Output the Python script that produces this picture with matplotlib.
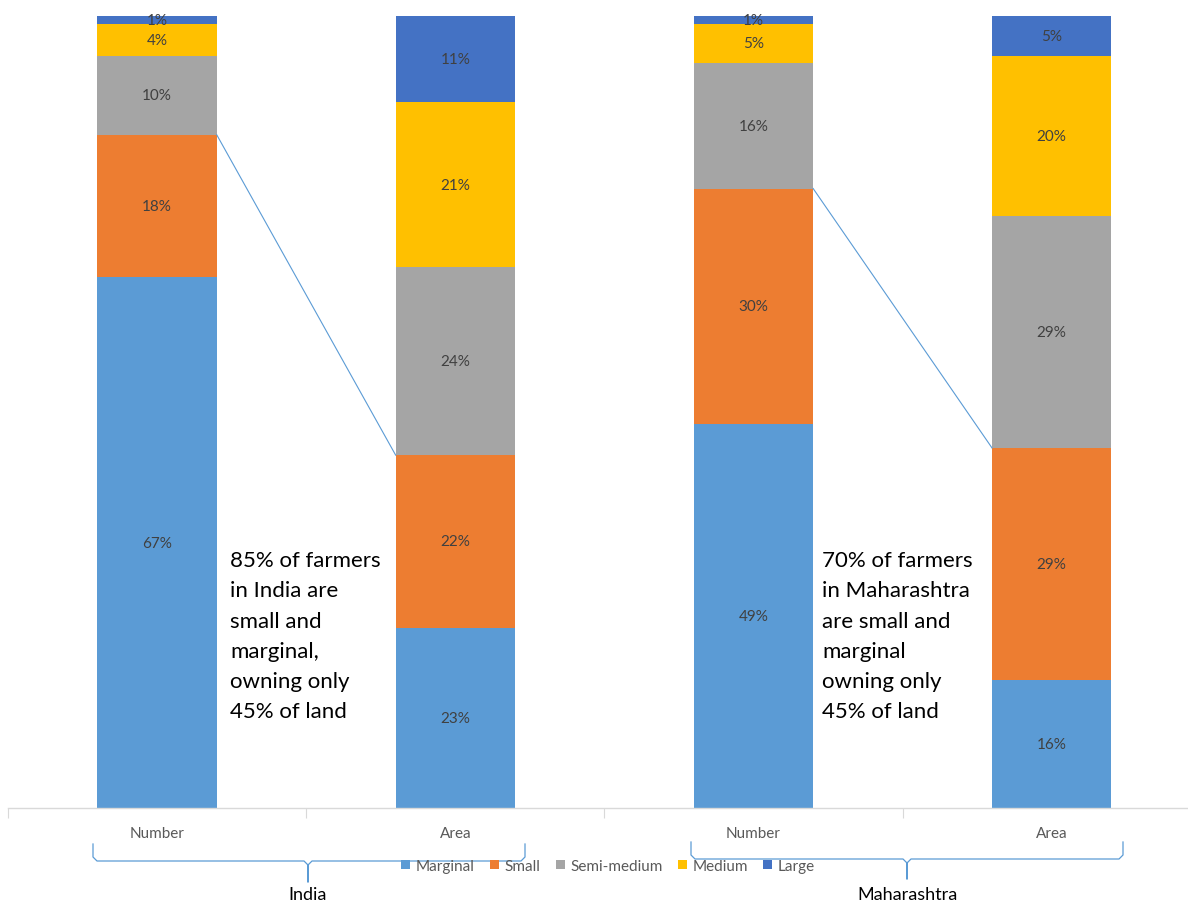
import matplotlib
import matplotlib.pyplot as plt
from matplotlib.lines import Line2D
from matplotlib.patches import Patch
import numpy as np

matplotlib.use("Agg")

# landholding classes, bottom to top of each stack
classes = ["Marginal", "Small", "Semi-medium", "Medium", "Large"]
colors = ["#5B9BD5", "#ED7D31", "#A5A5A5", "#FFC000", "#4472C4"]

tick_labels = ["Number", "Area", "Number", "Area"]
groups = ["India", "Maharashtra"]

# percentage shares per class for each column
india_number = [67, 18, 10, 4, 1]
india_area = [23, 22, 24, 21, 11]
maha_number = [49, 30, 16, 5, 1]
maha_area = [16, 29, 29, 20, 5]

notes = [
    ["85% of farmers", "in India are", "small and", "marginal,", "owning only", "45% of land"],
    ["70% of farmers", "in Maharashtra", "are small and", "marginal", "owning only", "45% of land"],
]

plt.rcParams["font.family"] = ["Lato", "DejaVu Sans"]

W, H = 1188, 903
fig = plt.figure(figsize=(W / 100, H / 100), dpi=100)


def px(x, y):
    return x / W, 1 - y / H


slot = 298.2
ax = fig.add_axes([8 / W, 94 / H, 1180 / W, 792 / H])

columns = [india_number, india_area, maha_number, maha_area]
width = 0.4
x = np.arange(len(columns))
tops_small = []
for i, col in enumerate(columns):
    vals = np.array(col, dtype=float)
    shares = vals / vals.sum() * 100  # 100% stacked
    bottom = 0
    for j, (v, s) in enumerate(zip(col, shares)):
        ax.bar(x[i], s, width=width, bottom=bottom, color=colors[j], linewidth=0)
        ax.text(x[i], bottom + s / 2, f"{v}%", ha="center", va="center",
                fontsize=11, color="#404040")
        bottom += s
        if j == 1:
            tops_small.append(bottom)

# series lines joining the top of the Small segment
for a in (0, 2):
    ax.plot([x[a] + width / 2, x[a + 1] - width / 2], [tops_small[a], tops_small[a + 1]],
            color="#5B9BD5", linewidth=0.8)

for s in ["top", "left", "right"]:
    ax.spines[s].set_visible(False)
ax.spines["bottom"].set_color("#D9D9D9")
ax.spines["bottom"].set_linewidth(1)
ax.set_yticks([])
ax.set_xticks(np.arange(-0.5, 4, 1))
ax.set_xticklabels([])
ax.tick_params(axis="x", which="major", length=7, color="#D9D9D9")
ax.set_xticks(x, minor=True)
ax.set_xticklabels(tick_labels, minor=True, fontsize=11, color="#595959")
ax.tick_params(axis="x", which="minor", length=0, pad=13)
# limits last, set_xticks would widen them
ax.set_xlim(-0.5, -0.5 + 1180 / slot)
ax.set_ylim(0, 100)

# annotation text beside the Number bars
for lines, left in zip(notes, [230, 822]):
    for k, line in enumerate(lines):
        fx, fy = px(left, 567 + k * 30.3)
        fig.text(fx, fy, line, fontsize=16, color="black", ha="left", va="baseline")


# braces under each group
def brace(x0, x1, xc, ytop, yline, ytip):
    r = 4
    pts = [(x0, ytop), (x0, yline - r), (x0 + r, yline), (xc - r, yline), (xc, yline + r),
           (xc, ytip), (xc, yline + r), (xc + r, yline), (x1 - r, yline), (x1, yline - r),
           (x1, ytop)]
    xs, ys = zip(*[px(p, q) for p, q in pts])
    fig.add_artist(Line2D(xs, ys, color="#5B9BD5", linewidth=0.9))


brace(93, 525, 308, 845, 862, 883)
brace(691, 1123, 907, 843, 860, 880)

for name, cx in zip(groups, [308, 907]):
    fx, fy = px(cx, 895)
    fig.text(fx, fy, name, fontsize=13, color="black", ha="center", va="center")

handles = [Patch(facecolor=c, edgecolor="none") for c in colors]
lx, ly = px(608, 867)
fig.legend(handles, classes, loc="center", bbox_to_anchor=(lx, ly), ncol=5,
           frameon=False, fontsize=11, labelcolor="#595959", handlelength=0.6,
           handleheight=0.6, handletextpad=0.35, columnspacing=1.0)

fig.savefig("out.png", dpi=100)
plt.close()
